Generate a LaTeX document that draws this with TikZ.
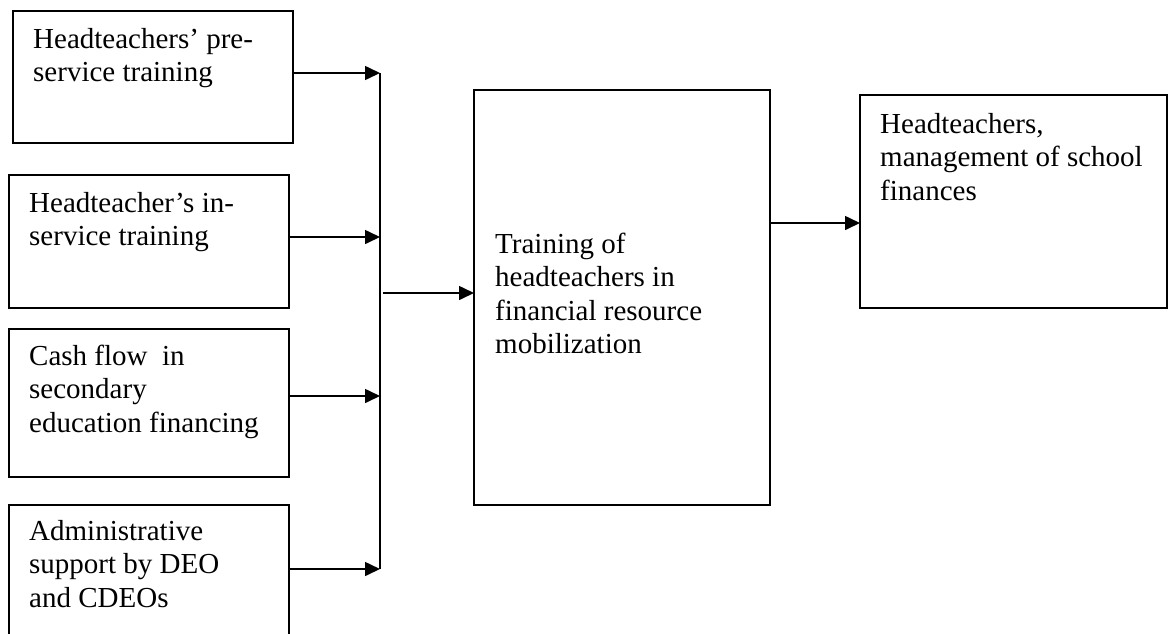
\documentclass[tikz,border=0pt]{standalone}
\usepackage{fontspec}
\setmainfont{Liberation Serif}
\usetikzlibrary{arrows.meta}
\begin{document}
\begin{tikzpicture}[x=1pt,y=-1pt,
  box/.style={draw,line width=1.6pt,inner sep=0pt,outer sep=0pt,anchor=north west},
  txt/.style={anchor=base west,align=left,inner sep=0pt,font=\fontsize{29}{33.6}\selectfont},
  arr/.style={line width=1.6pt,-{Triangle[length=15pt,width=14pt]}},
  ln/.style={line width=1.6pt}]
\useasboundingbox (0,0) rectangle (1175,633);
\clip (0,0) rectangle (1175,633);
% boxes
\node[box,minimum width=280pt,minimum height=132pt] (b1) at (13,11) {};
\node[box,minimum width=280pt,minimum height=133pt] (b2) at (9,175) {};
\node[box,minimum width=280pt,minimum height=148pt] (b3) at (9,329) {};
\node[box,minimum width=280pt,minimum height=160pt] (b4) at (9,505) {};
\node[box,minimum width=296pt,minimum height=415pt] (mid) at (474,90) {};
\node[box,minimum width=307pt,minimum height=213pt] (out) at (860,95) {};
% texts (anchor = baseline of the last line)
\node[txt] (t1) at (33,81.6) {Headteachers’ pre-\\service training};
\node[txt] (t2) at (29,245.6) {Headteacher’s in-\\service training};
\node[txt] (t3) at (29,432.2) {Cash flow~ in\\secondary\\education financing};
\node[txt] (t4) at (29,607.2) {Administrative\\support by DEO\\and CDEOs};
\node[txt] (tm) at (495,353.8) {Training of\\headteachers in\\financial resource\\mobilization};
\node[txt] (to) at (880,200.2) {Headteachers,\\management of school\\finances};
% junction coordinates
\coordinate (j1) at (380,73);
\coordinate (j2) at (380,237);
\coordinate (j3) at (380,396);
\coordinate (j4) at (380,569);
\coordinate (jm) at (383,293);
\coordinate (o1) at (770,223);
% connectors
\draw[ln] (j1) -- (j4);
\draw[arr] (b1.east |- j1) -- (j1);
\draw[arr] (b2.east |- j2) -- (j2);
\draw[arr] (b3.east |- j3) -- (j3);
\draw[arr] (b4.east |- j4) -- (j4);
\draw[arr] (jm) -- (mid.west |- jm);
\draw[arr] (mid.east |- o1) -- (out.west |- o1);
\end{tikzpicture}
\end{document}
